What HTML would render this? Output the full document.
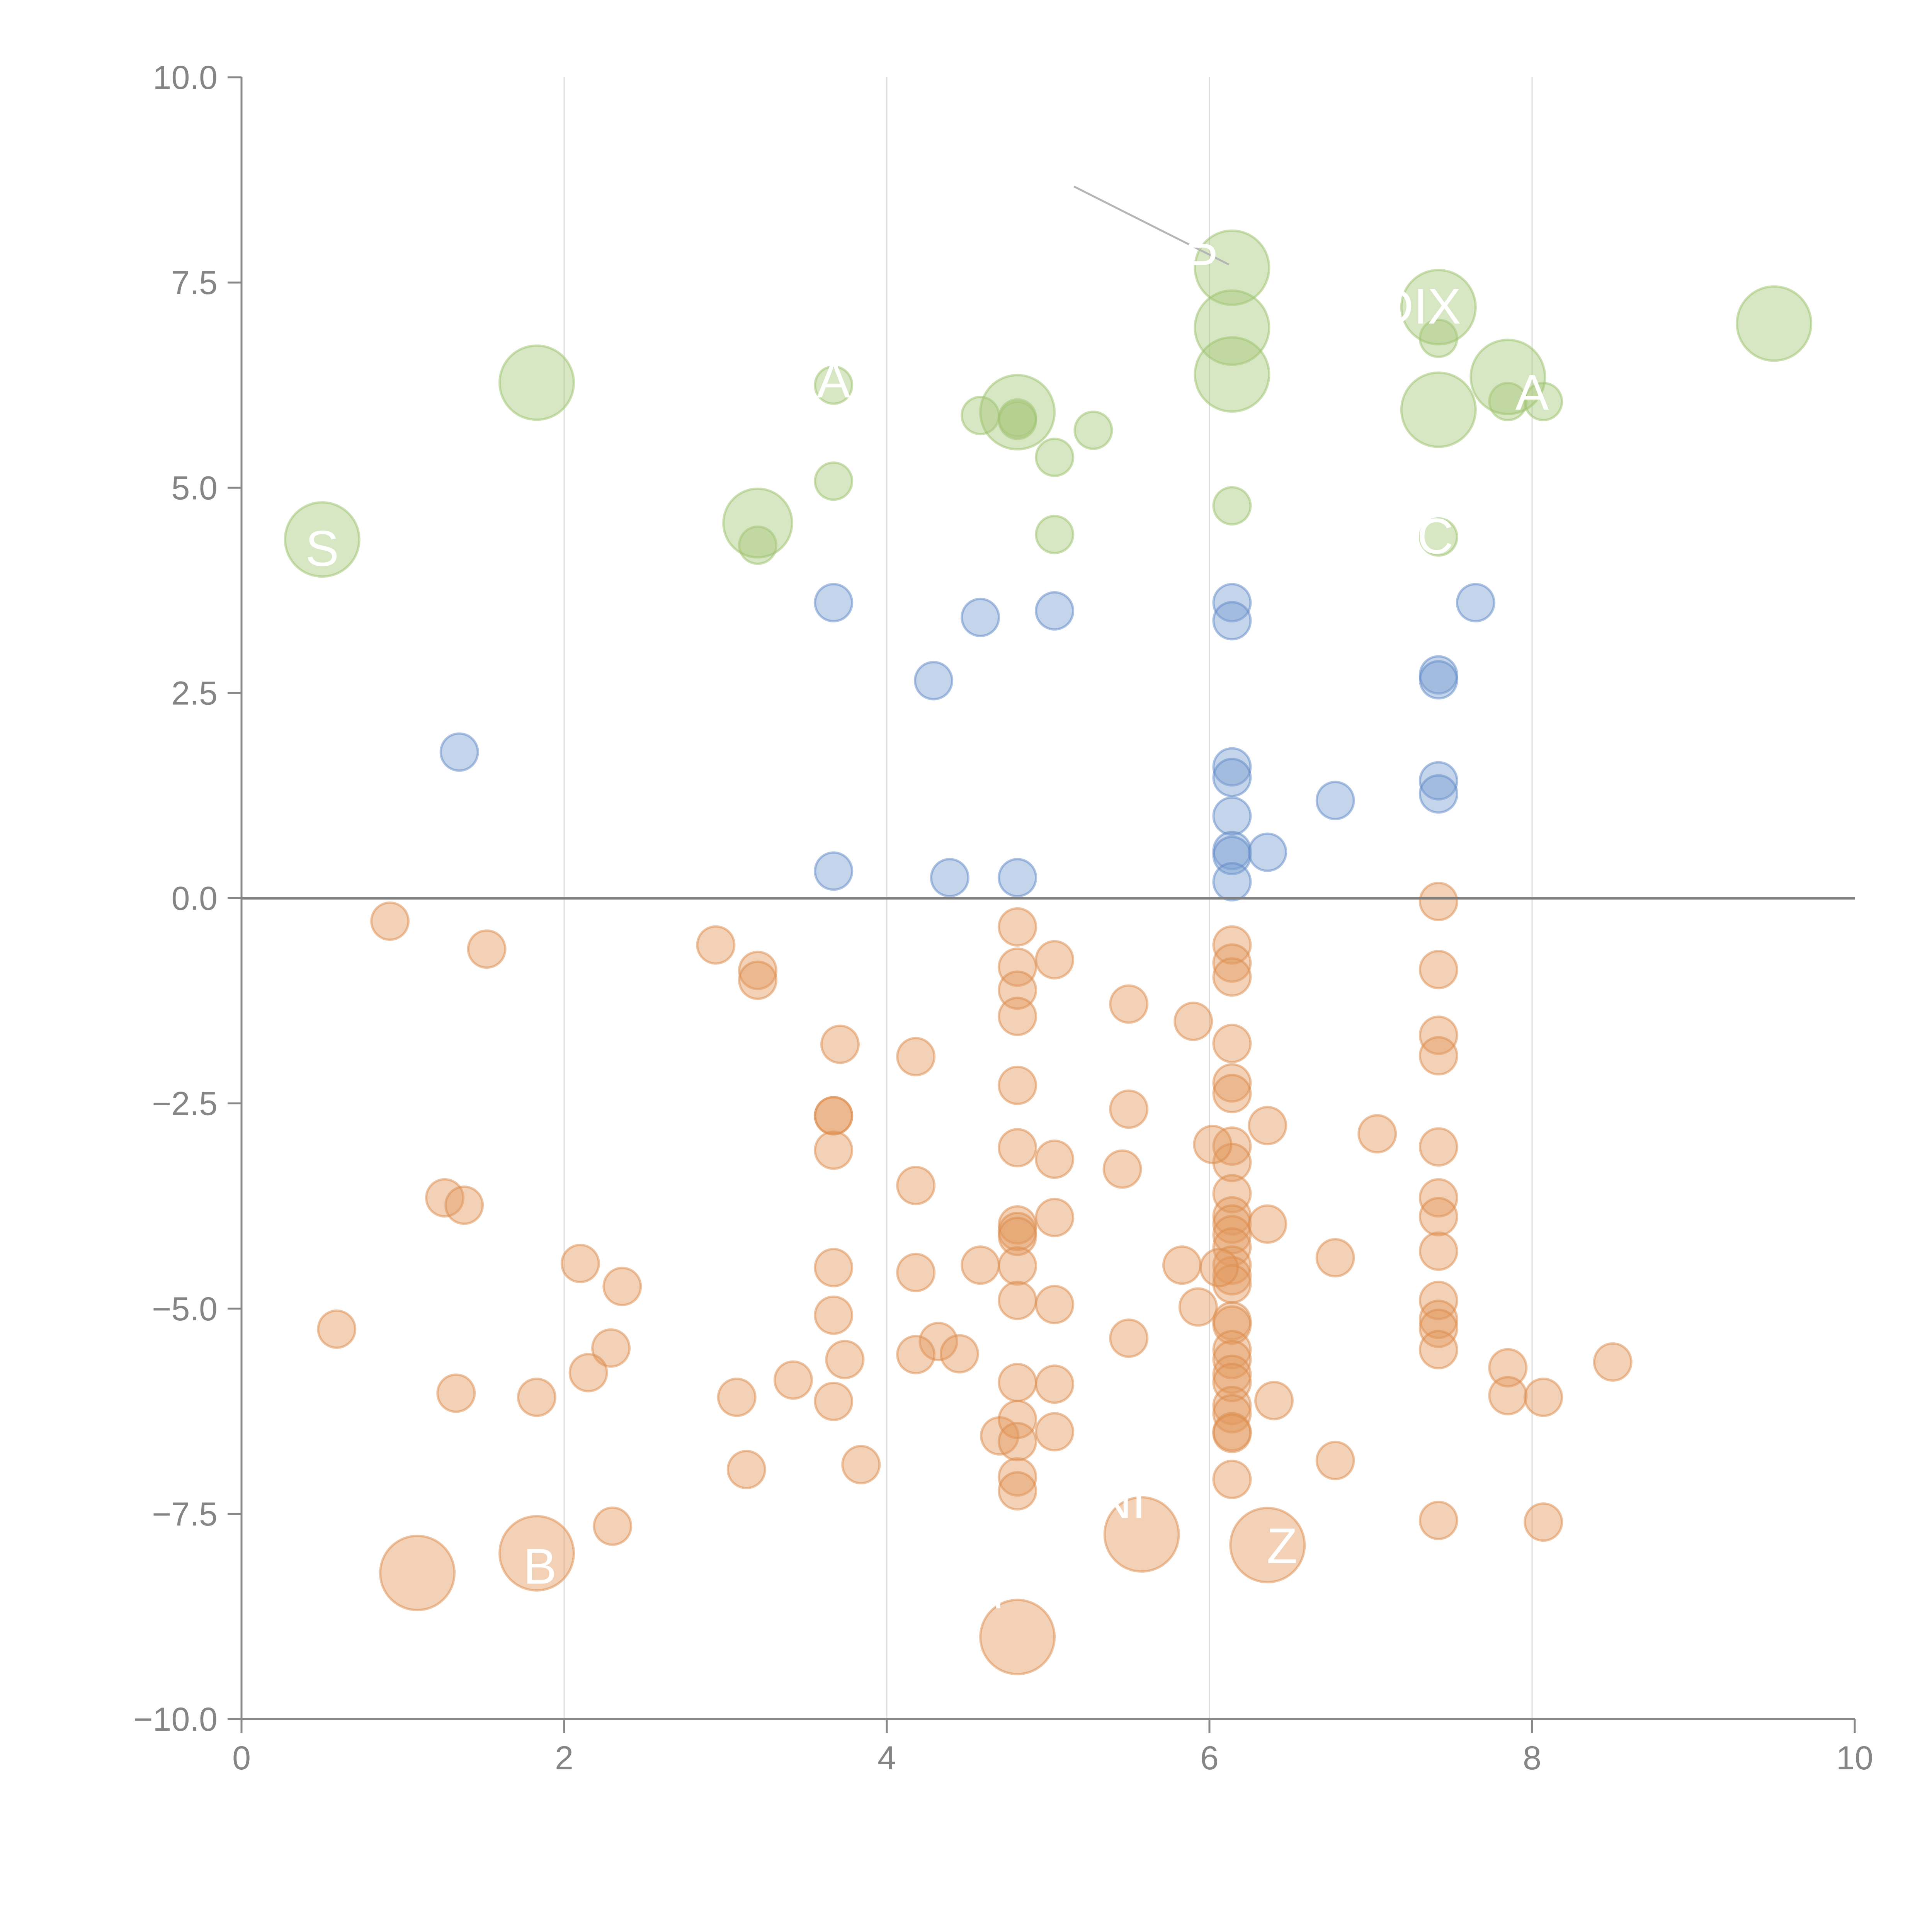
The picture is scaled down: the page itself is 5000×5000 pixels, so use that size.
<!DOCTYPE html>
<html><head><meta charset="utf-8"><style>html,body{margin:0;padding:0;background:#fff}svg{display:block}</style></head>
<body>
<svg id="chart" width="5000" height="5000" viewBox="0 0 5000 5000" xmlns="http://www.w3.org/2000/svg" font-family="Liberation Sans, sans-serif">
<g id="grid"></g>
<g id="marks"></g>
<g id="axes"></g>
<g id="labels"></g>
</svg>
<script>
const xTicks = [0, 2, 4, 6, 8, 10];
const yTicks = [-10, -7.5, -5, -2.5, 0, 2.5, 5, 7.5, 10];
const yTickLabels = ["\u221210.0","\u22127.5","\u22125.0","\u22122.5","0.0","2.5","5.0","7.5","10.0"];

const blueX = [1.35,3.67,3.67,4.29,4.39,4.58,4.81,5.04,6.14,6.14,6.14,6.14,6.14,6.14,6.14,6.14,6.36,6.78,7.42,7.42,7.42,7.42,7.65];
const blueY = [1.78,3.6,0.33,2.65,0.25,3.42,0.25,3.5,3.6,3.38,1.6,1.47,1.0,0.58,0.52,0.2,0.56,1.19,2.72,2.66,1.43,1.27,3.6];

const greenX = [3.67,3.67,3.2,4.58,4.81,4.81,5.04,5.04,5.28,6.14,7.42,7.42,7.85,8.07, 0.5,1.83,3.2,4.81,6.14,6.14,6.14,7.42,7.42,7.85,9.5];
const greenY = [6.25,5.08,4.3,5.88,5.85,5.82,5.37,4.43,5.7,4.78,6.82,4.4,6.05,6.05, 4.37,6.28,4.57,5.92,7.68,6.95,6.38,7.2,5.95,6.35,7.0];
const greenSize = [1,1,1,1,1,1,1,1,1,1,1,1,1,1, 2,2,1.85,2,2,2,2,2,2,2,2];

const orangeX = [0.92,1.52,2.94,3.2,3.2,3.71,3.67,3.67,3.67,4.18,4.81,4.81,4.81,4.81,5.04,4.81,5.5,5.9,5.5,4.81,5.04,5.46,1.26,1.38,4.18,4.81,4.81,4.81,5.04,4.81,4.58,4.18,3.67,2.1,2.36,0.59,3.67,4.81,5.04,5.83,5.93,4.32,4.45,4.18,3.74,5.5,2.29,2.15,1.33,1.83,3.07,3.42,3.67,4.81,5.04,3.13,3.84,4.7,4.81,4.81,5.04,4.81,4.81,2.3,
 6.14,6.14,6.14,6.14,6.14,6.14,6.14,6.14,6.14,6.14,6.14,6.14,6.14,6.14,6.14,6.14,6.14,6.14,6.14,6.14,6.14,6.14,6.14,6.14,6.14,6.14,6.14,
 6.02,6.36,6.36,6.4,6.06,6.78,6.78,7.04,
 7.42,7.42,7.42,7.42,7.42,7.42,7.42,7.42,7.42,7.42,7.42,7.42,7.42,
 7.85,7.85,8.07,8.07,8.5,
 1.09,1.83,4.81,5.58,6.36];
const orangeY = [-0.28,-0.62,-0.57,-0.88,-1.0,-1.78,-2.65,-2.65,-3.07,-1.93,-0.35,-0.84,-1.12,-1.44,-0.75,-2.28,-1.29,-1.5,-2.57,-3.04,-3.18,-3.3,-3.65,-3.74,-3.5,-3.98,-4.06,-4.12,-3.89,-4.48,-4.47,-4.56,-4.5,-4.45,-4.73,-5.25,-5.08,-4.9,-4.95,-4.47,-4.98,-5.4,-5.55,-5.56,-5.62,-5.36,-5.48,-5.78,-6.03,-6.08,-6.08,-5.87,-6.13,-5.9,-5.92,-6.96,-6.9,-6.55,-6.35,-6.62,-6.5,-7.05,-7.22,-7.65,
 -0.57,-0.79,-0.96,-1.77,-2.25,-2.38,-3.02,-3.22,-3.6,-3.87,-3.97,-4.1,-4.25,-4.47,-4.6,-4.7,-5.15,-5.2,-5.5,-5.62,-5.8,-5.9,-6.18,-6.28,-6.5,-6.52,-7.08,
 -3.0,-2.77,-3.97,-6.12,-4.5,-4.38,-6.85,-2.87,
 -0.04,-0.87,-1.67,-1.92,-3.03,-3.65,-3.88,-4.3,-4.9,-5.13,-5.24,-5.5,-7.58,
 -5.72,-6.06,-6.08,-7.6,-5.65,
 -8.22,-7.98,-9.0,-7.75,-7.88];
const orangeSize = orangeY.map((v,i)=> i >= orangeY.length-5 ? 2 : 1);

const labelText = ["S","A","P","DIX","A","C","NI","B","M","Z"];
const labelX = [0.5,3.67,5.95,7.3,8.0,7.4,5.45,1.85,4.6,6.45];
const labelY = [4.05,6.1,7.55,7.0,5.95,4.2,-7.55,-8.35,-8.65,-8.1];

const X0=625, X1=4800, Y0=4449, Y1=200;
function sx(v){return X0+(v-0)/(10-0)*(X1-X0);}
function sy(v){return Y0-(v+10)/20*(Y0-Y1);}
const NS="http://www.w3.org/2000/svg";
function mk(tag, attrs, parent){const e=document.createElementNS(NS,tag);for(const k in attrs)e.setAttribute(k,attrs[k]);parent.appendChild(e);return e;}

const grid=document.getElementById('grid'), marks=document.getElementById('marks'), axes=document.getElementById('axes'), labels=document.getElementById('labels');

xTicks.forEach(t=>{ if(t>0&&t<10){
  const l=mk('line',{x1:sx(t),x2:sx(t),y1:Y1,y2:Y0,stroke:'#dcdcdc','stroke-width':3},grid);
  
  
}});

function drawSeries(xs,ys,sizes,fill,stroke,name){
  xs.forEach((x,i)=>{
    const r = sizes ? (sizes[i]===1?48:sizes[i]*48) : 48;
    const c=mk('circle',{cx:sx(x),cy:sy(ys[i]),r:r,fill:fill,'fill-opacity':0.45,stroke:stroke,'stroke-opacity':0.5,'stroke-width':6},marks);
    
    
  });
}
drawSeries(blueX,blueY,null,'#7a9fd3','#5f88c6','blue-bubble');
drawSeries(greenX,greenY,greenSize,'#a6c77a','#9cc26c','green-bubble');
drawSeries(orangeX,orangeY,orangeSize,'#e39a5f','#dc8c4c','orange-bubble');

// leader line
const ld=mk('line',{x1:sx(5.16),y1:sy(8.67),x2:sx(6.12),y2:sy(7.72),stroke:'#b5b5b5','stroke-width':5},labels);



labelText.forEach((t,i)=>{
  const e=mk('text',{x:sx(labelX[i]),y:sy(labelY[i]),fill:'#fff','font-size':130,'text-anchor':'middle'},labels);
  e.textContent=t;
  
  
});

// zero line
const z=mk('line',{x1:X0,x2:X1,y1:sy(0),y2:sy(0),stroke:'#808080','stroke-width':7},axes);


const ya=mk('line',{x1:X0,x2:X0,y1:Y1,y2:Y0,stroke:'#888','stroke-width':5},axes);


const xa=mk('line',{x1:X0,x2:X1,y1:Y0,y2:Y0,stroke:'#888','stroke-width':5},axes);



yTicks.forEach((t,i)=>{
  const tk=mk('line',{x1:X0-36,x2:X0,y1:sy(t),y2:sy(t),stroke:'#888','stroke-width':5},axes);
  
  
  const tx=mk('text',{x:X0-62,y:sy(t)+30,fill:'#858585','font-size':86,'text-anchor':'end'},axes);
  tx.textContent=yTickLabels[i];
  
  
});
xTicks.forEach(t=>{
  const tk=mk('line',{x1:sx(t),x2:sx(t),y1:Y0,y2:Y0+36,stroke:'#888','stroke-width':5},axes);
  
  
  const tx=mk('text',{x:sx(t),y:Y0+130,fill:'#858585','font-size':86,'text-anchor':'middle'},axes);
  tx.textContent=String(t);
  
  
});
</script>
</body></html>
